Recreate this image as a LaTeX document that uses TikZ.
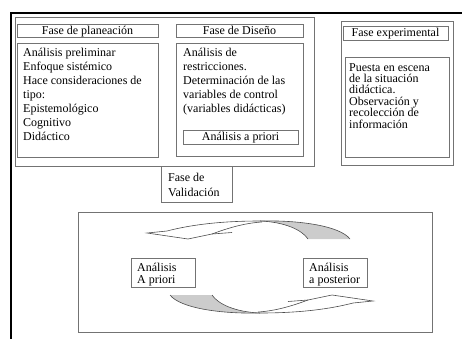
\documentclass[tikz,border=0pt]{standalone}
\usepackage{fontspec}
\setmainfont{Liberation Serif}
\newcommand\ribbonarrow{%
  \fill[black!20] (308,239) -- (350,239) .. controls (340,226) and (300,220) .. (260,221) .. controls (285,222) and (302,230) .. (308,239) -- cycle;
  \draw[arr] (350,239) .. controls (340,226) and (300,220) .. (260,221) .. controls (220,221) and (190,225) .. (167,231) -- (147,233) -- (188,239) -- (212,234) -- (232,232.5);
  \draw[arr] (308,239) .. controls (302,230) and (285,222) .. (260,221);
  \draw[arr] (212,234) .. controls (228,228) and (245,223) .. (262,222);
}
\begin{document}
\begin{tikzpicture}[x=1pt,y=-1pt,
  box/.style={draw=black!55,line width=0.8pt},
  txt/.style={anchor=north west,inner sep=0pt,align=left},
  ttl/.style={anchor=base,inner sep=0pt,font=\fontsize{12}{14}\selectfont},
  arr/.style={draw=black!70,line width=0.6pt}]
\useasboundingbox (0,0) rectangle (462,339);
% black frame (top and left)
\draw[line width=2.2pt,black] (11,339) -- (11,13) -- (462,13);
% upper group
\draw[box] (15,17) rectangle (314,166);
\draw[box] (17,24) rectangle (158,37);
\draw[box] (17,43) rectangle (158,157);
\draw[box] (176,24) rectangle (303,37);
\draw[box] (176,43) rectangle (303,156);
\draw[box] (183,130) rectangle (298,144);
\node[ttl] (tplan) at (87.5,34.5) {Fase de planeación};
\node[ttl] (tdis) at (239.5,34.5) {Fase de Diseño};
\node[ttl] (apri) at (240.5,141) {Análisis a priori};
\node[txt,font=\fontsize{12}{14}\selectfont] (plan) at (23,45)
  {\rule{0pt}{11pt}Análisis preliminar\\Enfoque sistémico\\Hace consideraciones de\\tipo:\\Epistemológico\\Cognitivo\\Didáctico};
\node[txt,font=\fontsize{12}{14}\selectfont] (dis) at (183,45)
  {\rule{0pt}{11pt}Análisis de\\restricciones.\\Determinación de las\\variables de control\\(variables didácticas)};
% experimental group
\draw[box] (341,21) rectangle (453,165);
\draw[box] (343,26) rectangle (448,40);
\draw[box] (345,57) rectangle (449,157);
\node[ttl] (texp) at (395.5,37) {Fase experimental};
\node[txt,font=\fontsize{12}{11.4}\selectfont] (exp) at (349,60)
  {\rule{0pt}{11pt}Puesta en escena\\de la situación\\didáctica.\\Observación y\\recolección de\\información};
% validation
\draw[box] (161,166) rectangle (232,202);
\node[txt,font=\fontsize{12}{15}\selectfont] (val) at (168,170)
  {\rule{0pt}{11pt}Fase de\\Validación};
% bottom group
\draw[box] (78,212) rectangle (432,332);
\draw[box] (131,258) rectangle (195,287);
\draw[box] (303,258) rectangle (367,287);
\node[txt,font=\fontsize{12}{12.5}\selectfont] (apr) at (137,260)
  {\rule{0pt}{11pt}Análisis\\A priori};
\node[txt,font=\fontsize{12}{12.5}\selectfont] (apost) at (309,260)
  {\rule{0pt}{11pt}Análisis\\a posterior};
\ribbonarrow
\begin{scope}[rotate around={180:(260,267)}]
\ribbonarrow
\end{scope}
\end{tikzpicture}
\end{document}
